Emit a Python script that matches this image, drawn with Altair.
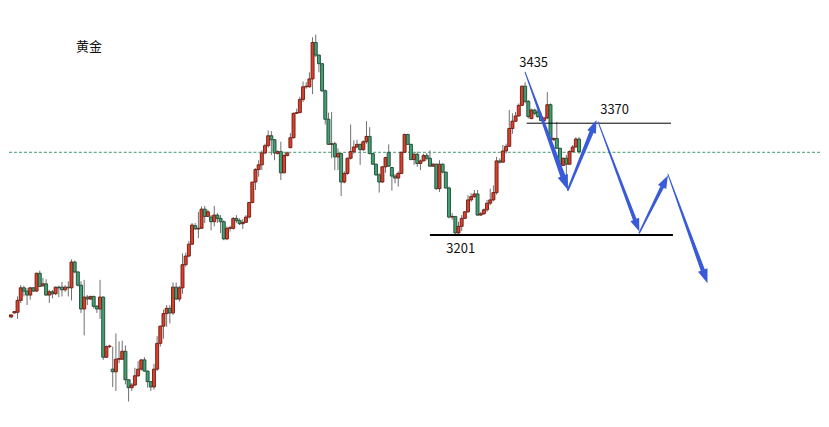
import math
import altair as alt
import pandas as pd

# ---- candle data (price) ----
opens = [3075, 3072, 3080, 3077, 3083, 3084, 3102, 3121, 3116, 3110,
         3121, 3116, 3143, 3124, 3127, 3110, 3115, 3112, 3122, 3122,
         3118, 3122, 3121, 3160, 3145, 3125, 3089, 3107, 3104, 3108,
         3093, 3089, 3107, 3016, 3032, 2998, 2994, 3013, 3013, 3025,
         2982, 2970, 2974, 2988, 2998, 3012, 2995, 2979, 2971, 2998,
         3037, 3063, 3082, 3090, 3083, 3122, 3104, 3121, 3156, 3169,
         3187, 3215, 3210, 3211, 3240, 3229, 3228, 3221, 3231, 3226,
         3221, 3195, 3211, 3211, 3226, 3223, 3218, 3220, 3228, 3250,
         3281, 3300, 3307, 3325, 3336, 3351, 3345, 3324, 3327, 3295,
         3321, 3333, 3348, 3385, 3386, 3406, 3425, 3425, 3437, 3492,
         3473, 3460, 3419, 3376, 3338, 3339, 3319, 3324, 3281, 3294,
         3317, 3327, 3334, 3338, 3330, 3342, 3350, 3324, 3308, 3292,
         3281, 3304, 3326, 3303, 3290, 3287, 3294, 3326, 3353, 3338,
         3315, 3323, 3309, 3313, 3321, 3317, 3305, 3308, 3271, 3308,
         3296, 3272, 3228, 3229, 3204, 3214, 3226, 3236, 3254, 3259,
         3263, 3231, 3233, 3239, 3249, 3254, 3265, 3313, 3311, 3328,
         3335, 3362, 3373, 3381, 3397, 3426, 3403, 3377, 3390, 3387,
         3380, 3374, 3378, 3398, 3345, 3347, 3332, 3306, 3317, 3308,
         3327, 3334, 3346]
highs = [3080, 3084, 3083, 3081, 3086, 3108, 3125, 3124, 3121, 3122,
         3122, 3144, 3147, 3136, 3134, 3118, 3118, 3123, 3124, 3130,
         3125, 3131, 3164, 3162, 3146, 3131, 3133, 3110, 3109, 3109,
         3095, 3133, 3108, 3034, 3035, 3032, 3052, 3040, 3041, 3034,
         2982, 2977, 3000, 3010, 3013, 3016, 2996, 2980, 3006, 3048,
         3064, 3088, 3095, 3095, 3129, 3129, 3124, 3173, 3174, 3192,
         3219, 3219, 3236, 3244, 3245, 3239, 3231, 3245, 3234, 3231,
         3223, 3214, 3215, 3228, 3231, 3226, 3225, 3231, 3251, 3281,
         3302, 3314, 3329, 3339, 3359, 3358, 3346, 3329, 3342, 3324,
         3327, 3355, 3386, 3392, 3410, 3433, 3432, 3447, 3500, 3504,
         3474, 3461, 3421, 3386, 3387, 3342, 3332, 3325, 3297, 3318,
         3368, 3344, 3345, 3339, 3344, 3373, 3364, 3325, 3309, 3294,
         3305, 3319, 3338, 3304, 3293, 3297, 3327, 3354, 3354, 3339,
         3325, 3327, 3315, 3324, 3325, 3329, 3310, 3309, 3314, 3309,
         3297, 3274, 3234, 3229, 3221, 3231, 3237, 3261, 3264, 3269,
         3269, 3236, 3241, 3254, 3271, 3276, 3319, 3317, 3337, 3339,
         3390, 3385, 3387, 3400, 3427, 3432, 3405, 3392, 3392, 3390,
         3386, 3379, 3417, 3400, 3348, 3372, 3333, 3318, 3322, 3329,
         3337, 3349, 3349]
lows = [3063, 3065, 3070, 3075, 3082, 3074, 3098, 3108, 3095, 3103,
        3115, 3115, 3122, 3123, 3109, 3098, 3105, 3110, 3107, 3108,
        3115, 3108, 3102, 3143, 3123, 3083, 3049, 3095, 3103, 3090,
        3083, 3074, 3012, 3015, 3030, 2971, 2965, 3007, 3012, 2975,
        2949, 2965, 2972, 2986, 2996, 2994, 2970, 2965, 2967, 2995,
        3032, 3044, 3062, 3067, 3080, 3103, 3100, 3112, 3153, 3167,
        3186, 3209, 3196, 3210, 3219, 3228, 3208, 3214, 3219, 3204,
        3193, 3193, 3206, 3209, 3219, 3216, 3210, 3219, 3226, 3249,
        3269, 3289, 3299, 3323, 3333, 3322, 3314, 3323, 3284, 3294,
        3320, 3332, 3347, 3384, 3385, 3402, 3422, 3424, 3414, 3470,
        3447, 3417, 3368, 3337, 3317, 3299, 3299, 3260, 3279, 3292,
        3315, 3324, 3332, 3307, 3328, 3339, 3323, 3307, 3290, 3265,
        3280, 3295, 3304, 3268, 3279, 3274, 3293, 3325, 3337, 3314,
        3307, 3304, 3299, 3312, 3314, 3304, 3304, 3269, 3266, 3294,
        3271, 3226, 3224, 3201, 3202, 3207, 3225, 3234, 3251, 3257,
        3230, 3230, 3231, 3236, 3246, 3252, 3262, 3309, 3311, 3324,
        3334, 3354, 3372, 3380, 3396, 3400, 3377, 3376, 3382, 3378,
        3373, 3373, 3376, 3344, 3343, 3331, 3306, 3305, 3284, 3307,
        3326, 3333, 3324]
closes = [3072, 3080, 3077, 3080, 3085, 3102, 3121, 3116, 3110, 3121,
          3116, 3143, 3123, 3127, 3110, 3115, 3112, 3122, 3121, 3118,
          3122, 3121, 3160, 3145, 3125, 3089, 3107, 3104, 3108, 3093,
          3089, 3107, 3016, 3032, 3033, 2994, 3013, 3014, 3025, 2982,
          2970, 2974, 2988, 2998, 3012, 2995, 2979, 2971, 2998, 3037,
          3063, 3082, 3090, 3083, 3122, 3104, 3121, 3156, 3169, 3187,
          3216, 3210, 3211, 3240, 3229, 3236, 3221, 3231, 3226, 3221,
          3195, 3211, 3212, 3226, 3223, 3218, 3220, 3228, 3250, 3281,
          3300, 3307, 3325, 3336, 3351, 3345, 3325, 3327, 3295, 3321,
          3325, 3348, 3385, 3386, 3406, 3425, 3426, 3437, 3492, 3473,
          3460, 3419, 3376, 3338, 3339, 3319, 3324, 3281, 3294, 3317,
          3327, 3334, 3338, 3330, 3342, 3350, 3324, 3308, 3292, 3281,
          3304, 3318, 3305, 3290, 3287, 3294, 3326, 3353, 3338, 3315,
          3323, 3309, 3313, 3321, 3317, 3305, 3308, 3271, 3308, 3296,
          3272, 3228, 3229, 3204, 3214, 3226, 3236, 3254, 3259, 3263,
          3231, 3233, 3239, 3249, 3254, 3265, 3313, 3311, 3328, 3335,
          3362, 3373, 3381, 3397, 3426, 3403, 3380, 3390, 3385, 3380,
          3374, 3378, 3398, 3345, 3347, 3332, 3307, 3317, 3308, 3327,
          3334, 3346, 3327]

# ---- annotation data ----
mid_level = 3326
level_prices = [3370, 3201]
level_start = [165.5, 135.0]
level_end = [211.0, 211.6]

label_text = ["黄金", "3435", "3370", "3201"]
label_idx = [27.5, 167.7, 193.2, 144.7]
label_price = [3486, 3461, 3390, 3180]

arrow_start_idx = [165.0, 178.5, 188.0, 201.0, 210.0]
arrow_start_price = [3447, 3269, 3372, 3204, 3293]
arrow_end_idx = [178.5, 187.5, 201.0, 210.0, 222.5]
arrow_end_price = [3269, 3375, 3206, 3291, 3128]

# ---- layout / style ----
W, H = 813, 405
X_DOM = [2.3, 257.96]
Y_DOM = [2932.4, 3543.5]
RED, RED_EDGE = "#d8412f", "#6e1a10"
GREEN, GREEN_EDGE = "#43a073", "#1d4a33"
BLUE = "#3a5bd9"
arrow_w0 = [1.0, 2.0, 1.0, 1.5, 1.0]
arrow_w1 = [5.5, 4.5, 4.0, 4.0, 4.5]
head_len = [15, 13, 13, 13, 14]

xs = alt.Scale(domain=X_DOM, nice=False, zero=False, padding=0)
ys = alt.Scale(domain=Y_DOM, nice=False, zero=False, padding=0)

n = len(opens)
candles = pd.DataFrame({
    "i": list(range(n)), "o": opens, "h": highs, "l": lows, "c": closes,
})
candles["dir"] = ["up" if c >= o else "down" for o, c in zip(opens, closes)]

X = alt.X("i:Q", scale=xs, axis=None)

wicks = alt.Chart(candles).mark_rule(color="#6f6f6f", strokeWidth=1, clip=True).encode(
    x=X, y=alt.Y("l:Q", scale=ys, axis=None), y2="h:Q")

bodies = alt.Chart(candles).mark_bar(size=3, strokeWidth=0.9, clip=True).encode(
    x=X,
    y=alt.Y("o:Q", scale=ys, axis=None), y2="c:Q",
    fill=alt.Fill("dir:N", scale=alt.Scale(domain=["up", "down"], range=[RED, GREEN]), legend=None),
    stroke=alt.Stroke("dir:N", scale=alt.Scale(domain=["up", "down"], range=[RED_EDGE, GREEN_EDGE]), legend=None),
)

mid_df = pd.DataFrame({"p": [mid_level]})
mid_rule = alt.Chart(mid_df).mark_rule(color="#3a9a6a", strokeWidth=1, strokeDash=[3, 2]).encode(
    y=alt.Y("p:Q", scale=ys, axis=None))

lev_df = pd.DataFrame({"p": level_prices, "a": level_start, "b": level_end,
                       "k": ["r", "s"]})
lev1 = alt.Chart(lev_df[lev_df.k == "r"]).mark_rule(color="#000000", strokeWidth=1).encode(
    x=alt.X("a:Q", scale=xs, axis=None), x2="b:Q", y=alt.Y("p:Q", scale=ys, axis=None))
lev2 = alt.Chart(lev_df[lev_df.k == "s"]).mark_rule(color="#000000", strokeWidth=2).encode(
    x=alt.X("a:Q", scale=xs, axis=None), x2="b:Q", y=alt.Y("p:Q", scale=ys, axis=None))

# arrows (tapered shafts + heads)
ppx = W / (X_DOM[1] - X_DOM[0])
ppy = H / (Y_DOM[1] - Y_DOM[0])
trail_rows, head_rows = [], []
for k in range(len(arrow_start_idx)):
    i0, p0 = arrow_start_idx[k], arrow_start_price[k]
    i1, p1 = arrow_end_idx[k], arrow_end_price[k]
    dx = (i1 - i0) * ppx
    dy = -(p1 - p0) * ppy
    L = math.hypot(dx, dy)
    ux, uy = dx / L, dy / L
    hl = head_len[k]
    se_i = i1 - (hl * 0.7 * ux) / ppx
    se_p = p1 + (hl * 0.7 * uy) / ppy
    hc_i = i1 - (hl * 0.5 * ux) / ppx
    hc_p = p1 + (hl * 0.5 * uy) / ppy
    trail_rows.append({"a": k, "ord": 0, "x": i0, "y": p0, "w": arrow_w0[k]})
    trail_rows.append({"a": k, "ord": 1, "x": se_i, "y": se_p, "w": arrow_w1[k]})
    ang = math.degrees(math.atan2(dx, -dy)) % 360
    head_rows.append({"a": k, "x": hc_i, "y": hc_p, "ang": ang, "s": hl * hl})

trail_df = pd.DataFrame(trail_rows)
head_df = pd.DataFrame(head_rows)

shafts = alt.Chart(trail_df).mark_trail(color=BLUE).encode(
    x=alt.X("x:Q", scale=xs, axis=None), y=alt.Y("y:Q", scale=ys, axis=None),
    size=alt.Size("w:Q", scale=None, legend=None),
    detail="a:N", order="ord:Q")

heads = alt.Chart(head_df).mark_point(
    shape="M0,-1L0.72,1L-0.72,1Z", filled=True, color=BLUE, opacity=1, strokeWidth=0).encode(
    x=alt.X("x:Q", scale=xs, axis=None), y=alt.Y("y:Q", scale=ys, axis=None),
    angle=alt.Angle("ang:Q", scale=None),
    size=alt.Size("s:Q", scale=None, legend=None))

lab_df = pd.DataFrame({"t": label_text, "x": label_idx, "y": label_price})
labels = alt.Chart(lab_df).mark_text(
    font="Noto Sans CJK SC", fontSize=13, color="#111111", align="center", baseline="middle").encode(
    x=alt.X("x:Q", scale=xs, axis=None), y=alt.Y("y:Q", scale=ys, axis=None), text="t:N")

chart = alt.layer(mid_rule, wicks, bodies, lev1, lev2, shafts, heads, labels).properties(
    width=W, height=H, padding=0, background="white"
).configure_view(stroke=None)

chart.save("out.html", embed_options={"renderer": "svg", "actions": False})
